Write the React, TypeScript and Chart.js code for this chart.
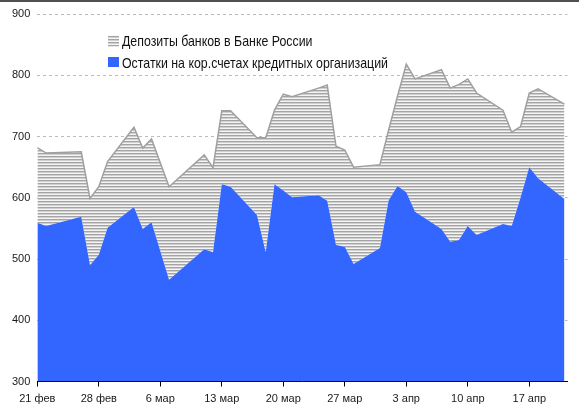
import React, { useEffect, useRef } from "react";
import { Chart, registerables } from "chart.js";
Chart.register(...registerables);

// Day offsets from 21 фев
const days = [0,1,5,6,7,8,11,12,13,15,19,20,21,22,25,26,27,28,29,32,33,34,35,36,39,40,41,42,43,46,47,48,49,50,53,54,55,56,57,60];
// Остатки на кор.счетах кредитных организаций
const balances = [559,554,569,490,507,551,585,549,560,466,516,511,622,618,572,511,622,612,601,604,595,523,520,492,518,596,619,609,577,549,528,531,554,539,557,554,600,650,632,598];
// Депозиты банков в Банке России (stacked on top)
const deposits = [123,119,106,109,111,108,130,132,136,152,154,138,120,124,126,187,121,157,164,175,189,161,158,158,136,115,147,209,217,260,251,254,240,232,186,153,116,121,146,155];

const tickDays = [0,7,14,21,28,35,42,49,56];
const tickLabels = ["21 фев","28 фев","6 мар","13 мар","20 мар","27 мар","3 апр","10 апр","17 апр"];
const seriesLabels = ["Остатки на кор.счетах кредитных организаций", "Депозиты банков в Банке России"];

const FONT = '"Liberation Sans", Arial, sans-serif';
const BLUE = "#3366ff";

function makePattern(ctx: CanvasRenderingContext2D) {
  const c = document.createElement("canvas");
  c.width = 4; c.height = 3;
  const p = c.getContext("2d")!;
  p.fillStyle = "#a4a4a4"; p.fillRect(0, 0, 4, 1);
  p.fillStyle = "#d0d0d0"; p.fillRect(0, 1, 4, 1);
  p.fillStyle = "#f4f4f4"; p.fillRect(0, 2, 4, 1);
  return ctx.createPattern(c, "repeat")!;
}

export default function App() {
  const ref = useRef<HTMLCanvasElement>(null);
  useEffect(() => {
    document.body.style.margin = "0";
    const canvas = ref.current!;
    const ctx = canvas.getContext("2d")!;
    const pattern = makePattern(ctx);

    const decor = {
      id: "decor",
      afterDraw(chart: any) {
        const c = chart.ctx as CanvasRenderingContext2D;
        c.save();
        c.fillStyle = "#505050";
        c.fillRect(0, 0, chart.width, 2);
        // legend
        c.fillStyle = pattern;
        c.fillRect(108, 35.5, 11, 11);
        c.fillStyle = BLUE;
        c.fillRect(108, 57, 11, 10);
        c.fillStyle = "#111";
        c.font = `15px ${FONT}`;
        c.textBaseline = "alphabetic";
        c.textAlign = "left";
        const w = c.measureText(seriesLabels[0]).width;
        const sx = Math.min(1, 266 / w);
        c.save();
        c.translate(122, 46);
        c.scale(sx, 1);
        c.fillText(seriesLabels[1], 0, 0);
        c.restore();
        c.save();
        c.translate(122, 68);
        c.scale(sx, 1);
        c.fillText(seriesLabels[0], 0, 0);
        c.restore();
        c.restore();
      },
    };

    const chart = new Chart(ctx, {
      type: "line",
      data: {
        datasets: [
          {
            label: seriesLabels[0],
            data: days.map((d, i) => ({ x: d, y: balances[i] })),
            backgroundColor: BLUE,
            borderColor: BLUE,
            borderWidth: 0,
            fill: "origin",
            pointRadius: 0,
          },
          {
            label: seriesLabels[1],
            data: days.map((d, i) => ({ x: d, y: deposits[i] })),
            backgroundColor: pattern,
            borderColor: "#a0a0a0",
            borderWidth: 1.5,
            fill: "-1",
            pointRadius: 0,
          },
        ],
      },
      options: {
        responsive: false,
        animation: false,
        layout: { padding: { top: 14, right: 11.5, left: 0, bottom: 0 } },
        plugins: { legend: { display: false }, tooltip: { enabled: false } },
        elements: { line: { tension: 0 } },
        scales: {
          x: {
            type: "linear",
            min: 0,
            max: 60.35,
            z: 1,
            afterBuildTicks: (s: any) => {
              s.ticks = tickDays.map((v) => ({ value: v }));
            },
            afterFit: (s: any) => {
              s.height = 23.5;
            },
            grid: { drawOnChartArea: false, drawTicks: true, tickLength: 5, color: "#000" },
            border: { display: true, color: "#000", width: 1 },
            ticks: {
              autoSkip: false,
              maxRotation: 0,
              padding: 6,
              color: "#1a1a1a",
              font: { family: FONT, size: 11 },
              callback: (v: any) => {
                const i = tickDays.indexOf(Number(v));
                return i >= 0 ? tickLabels[i] : "";
              },
            },
          },
          y: {
            stacked: true,
            min: 300,
            max: 900,
            afterFit: (s: any) => {
              s.width = 37.3;
            },
            grid: { color: "#bbbbbb", drawTicks: false, lineWidth: 1 },
            border: { display: false, dash: [3, 3] },
            ticks: {
              stepSize: 100,
              padding: 7,
              color: "#1a1a1a",
              font: { family: FONT, size: 11 },
            },
          },
        },
      },
      plugins: [decor],
    } as any);
    return () => chart.destroy();
  }, []);
  return <canvas ref={ref} width={579} height={405} style={{ display: "block" }} />;
}
